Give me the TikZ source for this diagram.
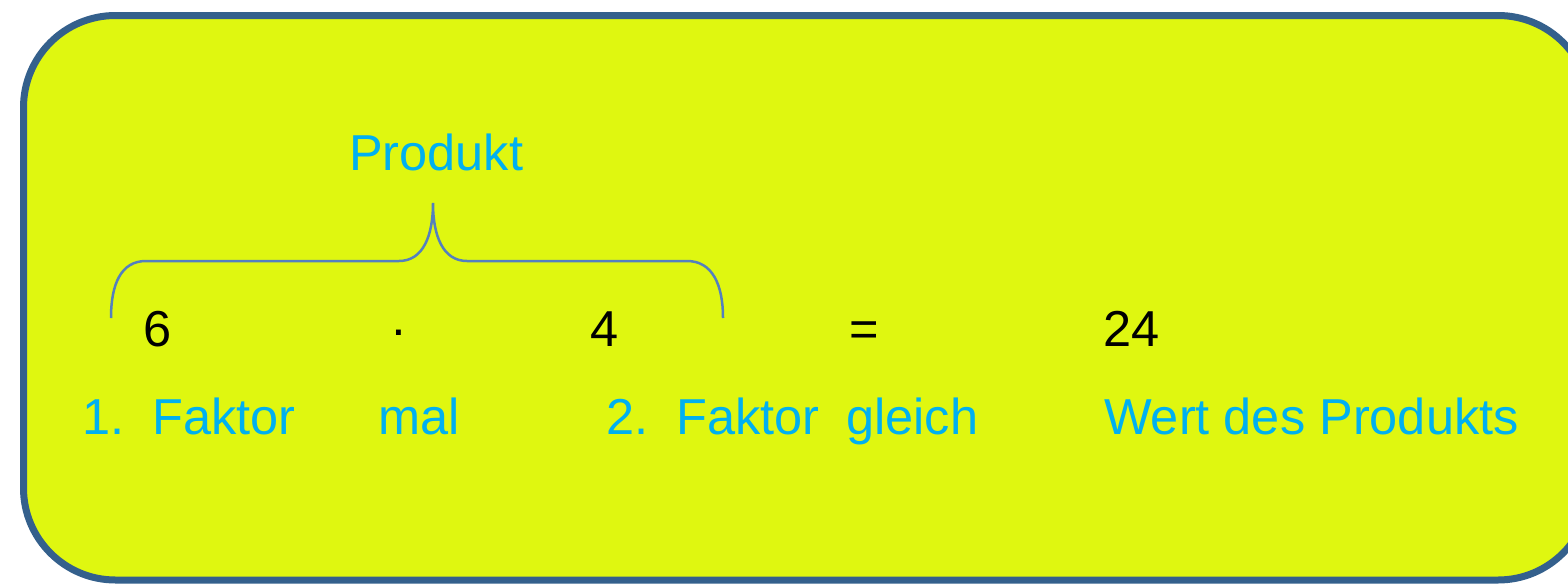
\documentclass[tikz,border=0pt]{standalone}
\usepackage{fontspec}
\setmainfont{Liberation Sans}
\definecolor{fillyel}{RGB}{223,247,16}
\definecolor{frameblue}{RGB}{52,96,140}
\definecolor{txtblue}{RGB}{0,176,240}
\definecolor{bracecol}{RGB}{84,128,190}
\tikzset{
  lbl/.style={anchor=base west, inner sep=0pt, text=txtblue, font=\fontsize{50.5}{60}\selectfont},
  num/.style={anchor=base west, inner sep=0pt, text=black, font=\fontsize{50.5}{60}\selectfont},
  framebox/.style={draw=frameblue, fill=fillyel, line width=7pt, rounded corners=92pt},
  bracestyle/.style={draw=bracecol, line width=2.5pt}
}
\begin{document}
\begin{tikzpicture}[x=1pt,y=-1pt]
\useasboundingbox (0,0) rectangle (1568,584);
\clip (0,0) rectangle (1568,584);
\fill[white] (0,0) rectangle (1568,584);
\path[framebox] (23.5,15.5) rectangle (1590,580);
% brace
\coordinate (bl) at (111,318);
\coordinate (bt) at (433,203);
\coordinate (br) at (723,318);
\path[bracestyle] (bl) .. controls (111,284) and (121,261) .. (146,261) -- (399,261)
  .. controls (423,261) and (433,236) .. (bt)
  .. controls (433,236) and (443,261) .. (467,261) -- (687,261)
  .. controls (712,261) and (723,284) .. (br);
\node[lbl] (produkt) at (349,170) {Produkt};
\node[num] (six) at (143,346) {6};
\node[num] (dot) at (390,346) {·};
\node[num] (four) at (590,346) {4};
\node[num] (eq) at (849,346) {=};
\node[num] (res) at (1103,346) {24};
\node[lbl] (f1) at (82,434) {1.\ \ Faktor};
\node[lbl] (mal) at (378,434) {mal};
\node[lbl] (f2) at (606,434) {2.\ \ Faktor};
\node[lbl] (gleich) at (846,434) {gleich};
\node[lbl] (wert) at (1104,434) {Wert des Produkts};
\end{tikzpicture}
\end{document}
